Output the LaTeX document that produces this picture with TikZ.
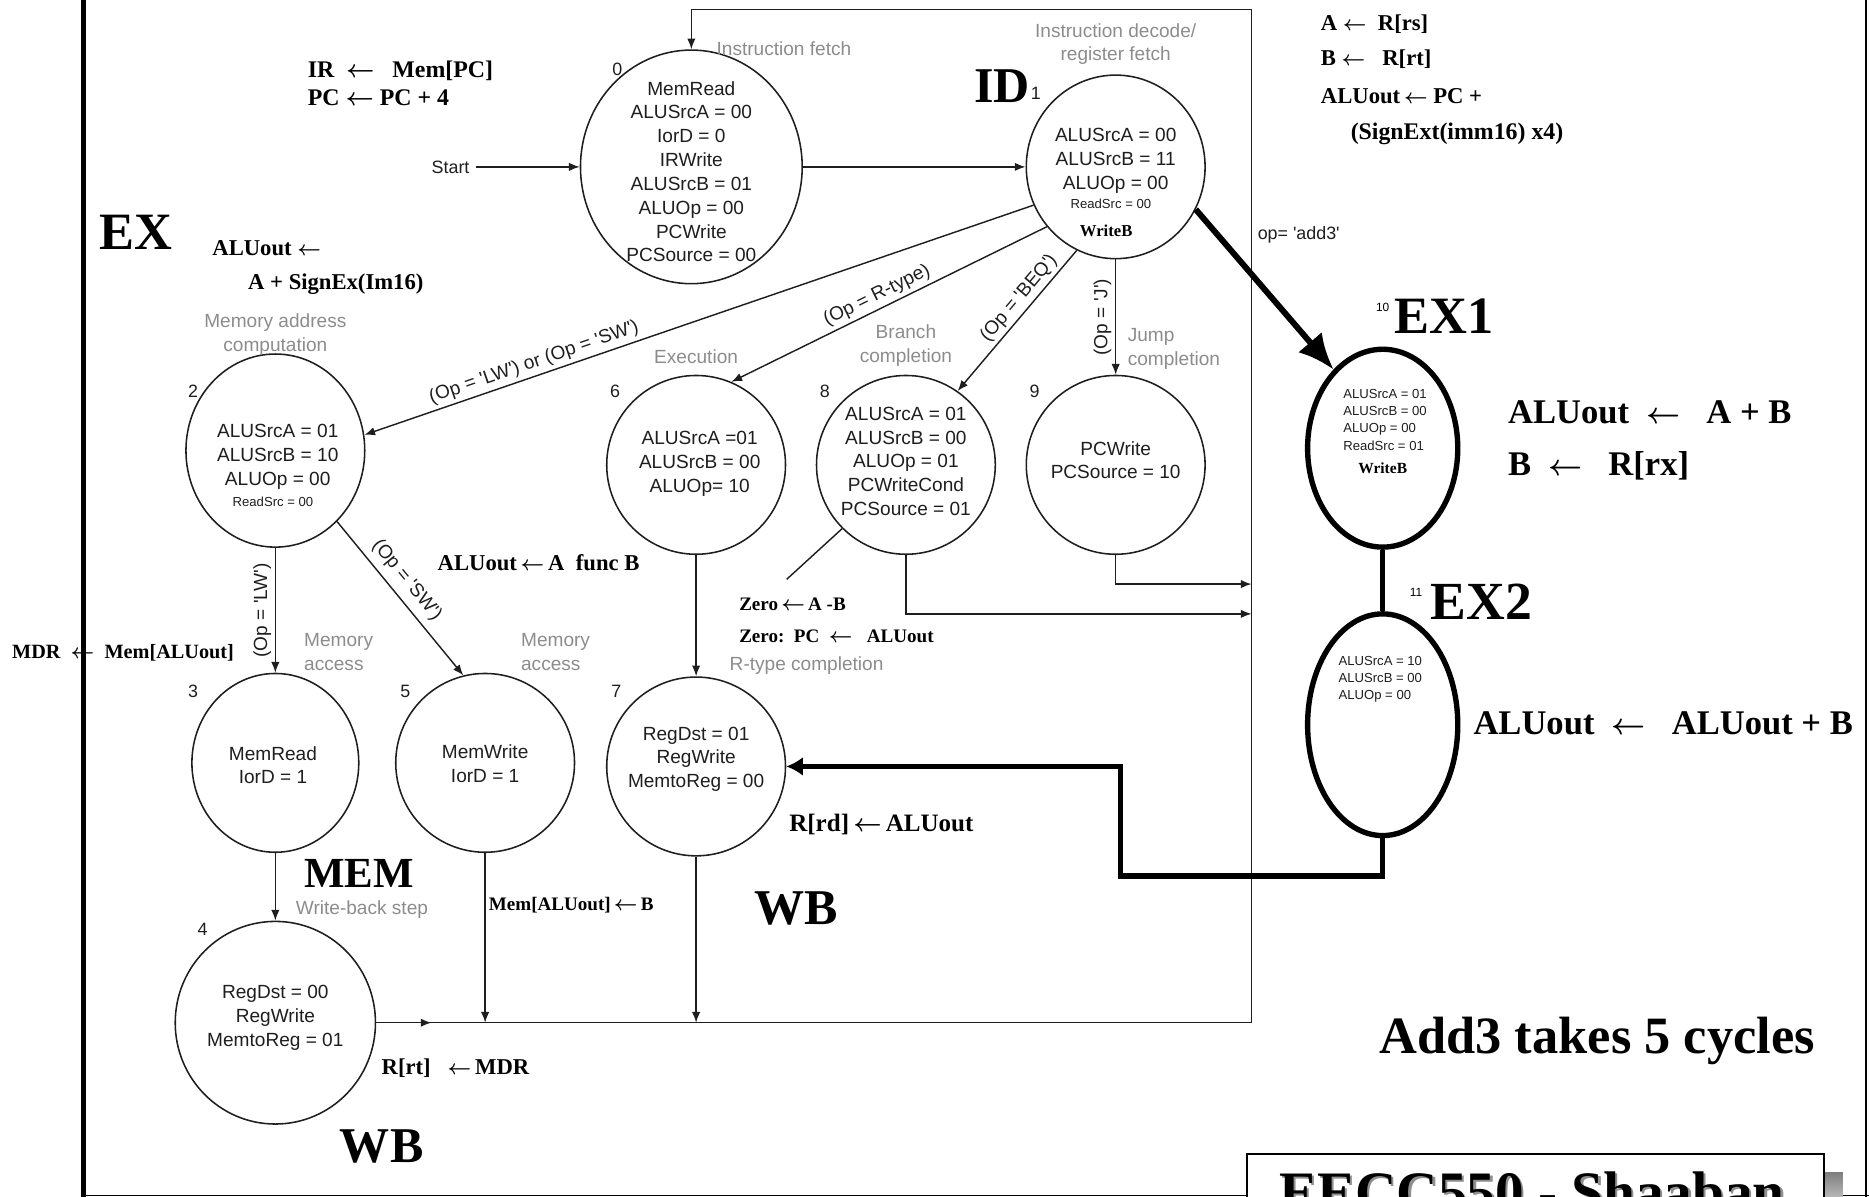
\documentclass[tikz,border=0pt]{standalone}
\usepackage{fontspec}
\setmainfont{Liberation Serif}
\setsansfont{Liberation Sans}
\usetikzlibrary{shapes.geometric,arrows.meta}
\definecolor{ink}{HTML}{1E1E1E}
\definecolor{fsmgray}{HTML}{8C8C8C}
\definecolor{shade}{HTML}{8F8F8F}
\newcommand{\getsarrow}{{\boldmath$\leftarrow$}}

\begin{document}
\begin{tikzpicture}[x=1pt,y=-1pt,
  >={Latex[length=9pt,width=7pt]},
  state/.style={draw=ink,ellipse,line width=1.3pt,inner sep=0pt},
  bigstate/.style={draw,ellipse,line width=4.5pt,inner sep=0pt},
  stxt/.style={font=\sffamily\fontsize{16}{20}\selectfont,text=ink,align=center,inner sep=0pt},
  smalltxt/.style={font=\sffamily\fontsize{11}{14.5}\selectfont,text=ink,align=left,inner sep=0pt},
  note/.style={font=\bfseries\fontsize{#1}{#1}\selectfont,anchor=west,inner sep=0pt},
  phase/.style={font=\bfseries\fontsize{44}{44}\selectfont,anchor=west,inner sep=0pt},
  stage/.style={font=\sffamily\fontsize{16}{20}\selectfont,text=fsmgray,align=center,inner sep=0pt},
  num/.style={font=\sffamily\fontsize{15}{15}\selectfont,text=ink,inner sep=0pt},
  cond/.style={font=\sffamily\fontsize{16}{16}\selectfont,text=ink,sloped,above,inner sep=3pt},
  condv/.style={font=\sffamily\fontsize{16}{16}\selectfont,text=ink,rotate=90,anchor=south,inner sep=3pt},
  wire/.style={draw=ink,line width=1.2pt}]
  \clip (0,0) rectangle (1568,1004);

  % slide frame
  \draw[line width=4pt] (70,0) -- (70,1004);
  \draw[line width=1pt] (1565.5,0) -- (1565.5,1004);
  \draw[shade,line width=1.5pt] (70,1003) -- (1568,1003);

  % states of the multicycle control
  \node[state,minimum width=186pt,minimum height=196pt] (s0) at (580,140) {};
  \node[stxt] (t0) at (580,144) {MemRead\\ALUSrcA = 00\\IorD = 0\\IRWrite\\ALUSrcB = 01\\ALUOp = 00\\PCWrite\\PCSource = 00};
  \node[num] (n0) at (518,58) {0};

  \node[state,minimum width=150pt,minimum height=154pt] (s1) at (936,140) {};
  \node[stxt] (t1) at (936,135) {ALUSrcA = 00\\ALUSrcB = 11\\ALUOp = 00};
  \node[smalltxt] (t1r) at (932,171) {ReadSrc = 00};
  \node[note=14,anchor=center] (t1w) at (928,194) {WriteB};

  \node[state,minimum width=150pt,minimum height=162pt] (s2) at (231,378) {};
  \node[stxt] (t2) at (233,383) {ALUSrcA = 01\\ALUSrcB = 10\\ALUOp = 00};
  \node[smalltxt] (t2r) at (229,421) {ReadSrc = 00};
  \node[num] (n2) at (162,328) {2};

  \node[state,minimum width=140pt,minimum height=150pt] (s3) at (231,640) {};
  \node[stxt] (t3) at (229,642) {MemRead\\IorD = 1};
  \node[num] (n3) at (162,580) {3};

  \node[state,minimum width=150pt,minimum height=150pt] (s5) at (407,640) {};
  \node[stxt] (t5) at (407,641) {MemWrite\\IorD = 1};
  \node[num] (n5) at (340,580) {5};

  \node[state,minimum width=150pt,minimum height=150pt] (s6) at (584,390) {};
  \node[stxt] (t6) at (587,389) {ALUSrcA =01\\ALUSrcB = 00\\ALUOp= 10};
  \node[num] (n6) at (516,328) {6};

  \node[state,minimum width=150pt,minimum height=150pt] (s8) at (760,390) {};
  \node[stxt] (t8) at (760,387) {ALUSrcA = 01\\ALUSrcB = 00\\ALUOp = 01\\PCWriteCond\\PCSource = 01};
  \node[num] (n8) at (692,328) {8};

  \node[state,minimum width=150pt,minimum height=150pt] (s9) at (936,390) {};
  \node[stxt] (t9) at (936,386) {PCWrite\\PCSource = 10};
  \node[num] (n9) at (868,328) {9};

  \node[state,minimum width=150pt,minimum height=150pt] (s7) at (584,643) {};
  \node[stxt] (t7) at (584,637) {RegDst = 01\\RegWrite\\MemtoReg = 00};
  \node[num] (n7) at (517,580) {7};

  \node[state,minimum width=168pt,minimum height=170pt] (s4) at (231,858) {};
  \node[stxt] (t4) at (231,854) {RegDst = 00\\RegWrite\\MemtoReg = 01};
  \node[num] (n4) at (170,780) {4};

  % add3 states
  \node[bigstate,minimum width=126pt,minimum height=166pt] (s10) at (1160,376) {};
  \node[smalltxt] (t10) at (1162,352) {ALUSrcA = 01\\ALUSrcB = 00\\ALUOp = 00\\ReadSrc = 01};
  \node[note=13,anchor=center] (t10w) at (1160,393) {WriteB};
  \node[bigstate,minimum width=126pt,minimum height=186pt] (s11) at (1160,608) {};
  \node[smalltxt] (t11) at (1158,570) {ALUSrcA = 10\\ALUSrcB = 00\\ALUOp = 00};
  \node[font=\sffamily\fontsize{10}{10}\selectfont,inner sep=0pt] (n10) at (1160,258) {10};
  \node[font=\sffamily\fontsize{10}{10}\selectfont,inner sep=0pt] (n11) at (1188,497) {11};

  % step names
  \node[stage,anchor=west] (g0) at (601,41) {Instruction fetch};
  \node[stage] (g1) at (936,37) {Instruction decode/\\register fetch};
  \node[stage] (g2) at (231,281) {Memory address\\computation};
  \node[stage] (g6) at (584,299) {Execution};
  \node[stage] (g8) at (760,290) {Branch\\completion};
  \node[stage,anchor=west,align=left] (g9) at (946,293) {Jump\\completion};
  \node[stage,anchor=west,align=left] (g3) at (255,547) {Memory\\access};
  \node[stage,anchor=west,align=left] (g5) at (437,547) {Memory\\access};
  \node[stage,anchor=west] (g7) at (612,558) {R-type completion};
  \node[stage,anchor=west] (g4) at (248,763) {Write-back step};

  % transitions
  \node[num,inner sep=5pt] (start) at (378,140) {Start};
  \draw[wire,->] (start.east) -- (s0.west);
  \draw[wire,->] (s0.east) -- (s1.west);
  \draw[wire,->] (s1.205) -- node[cond,pos=0.74] {(Op = \textquotesingle LW\textquotesingle) or (Op = \textquotesingle SW\textquotesingle)} (s2.10);
  \draw[wire,->] (s1.221) -- node[cond,pos=0.52] {(Op = R-type)} (s6.67);
  \draw[wire,->] (s1.245) -- node[cond,pos=0.4] {(Op = \textquotesingle BEQ\textquotesingle)} (s8.55);
  \draw[wire,->] (s1.south) -- node[condv,pos=0.5] {(Op = \textquotesingle J\textquotesingle)} (s9.north);
  \draw[wire,->] (s2.south) -- node[condv,pos=0.5] {(Op = \textquotesingle LW\textquotesingle)} (s3.north);
  \draw[wire,->] (s2.311) -- node[cond,pos=0.45,inner sep=6pt] {(Op = \textquotesingle SW\textquotesingle)} (s5.104);
  \draw[wire,->] (s6.south) -- (s7.north);
  \draw[wire,->] (s3.south) -- (s4.north);

  % return to fetch
  \coordinate (br) at (1050,858);
  \coordinate (tr) at (1050,8);
  \coordinate (bus) at (362,858);
  \coordinate (j9) at (1050,490);
  \coordinate (j8) at (1050,515);
  \draw[wire] (s4.east) -- (br) -- (tr);
  \draw[wire,->] (tr) -| (s0.north);
  \draw[wire,->] (s4.east) -- (bus);
  \draw[wire,->] (s5.south) -- (s5.south |- br);
  \draw[wire,->] (s7.south) -- (s7.south |- br);
  \draw[wire,->] (s9.south) |- (j9);
  \draw[wire,->] (s8.south) |- (j8);
  \coordinate (zp) at (660,486);
  \draw[wire] (s8.225) -- (zp);

  % add3 path
  \draw[line width=5pt,-{Latex[length=30pt,width=26pt]}] (s1.332) -- (s10.122);
  \node[num,anchor=west] (opadd) at (1055,197) {op= \textquotesingle add3\textquotesingle};
  \draw[line width=4.5pt] (s10.south) -- (s11.north);
  \coordinate (fb) at (940,735);
  \draw[line width=4.5pt,-{Latex[length=14pt,width=16pt]}] (s11.south) |- (fb) |- (s7.east);

  % register transfers
  \node[note=20] (rt0) at (258,59) {IR\enspace\getsarrow\enspace\ Mem[PC]};
  \node[note=20] (rt1) at (258,82) {PC\ \getsarrow\ PC + 4};
  \node[note=19] (rt2) at (1108,20) {A\ \getsarrow\ \ R[rs]};
  \node[note=19] (rt3) at (1108,50) {B\ \getsarrow\enspace\ R[rt]};
  \node[note=19] (rt4) at (1108,81) {ALUout\,\getsarrow\ PC +};
  \node[note=20] (rt5) at (1133,112) {(SignExt(imm16) x4)};
  \node[note=19] (rt6) at (178,208) {ALUout \getsarrow};
  \node[note=19] (rt7) at (208,238) {A + SignEx(Im16)};
  \node[note=19] (rt8) at (367,472) {ALUout\,\getsarrow\,A\enspace func B};
  \node[note=16] (rt9) at (620,507) {Zero\,\getsarrow\,A -B};
  \node[note=16] (rt10) at (620,534) {Zero:\enspace PC\enspace\getsarrow\enspace\ ALUout};
  \node[note=21] (rt11) at (662,692) {R[rd]\,\getsarrow\,ALUout};
  \node[note=17] (rt12) at (10,548) {MDR\enspace\getsarrow\enspace Mem[ALUout]};
  \node[note=16] (rt13) at (410,759) {Mem[ALUout]\,\getsarrow\,B};
  \node[note=19] (rt14) at (320,896) {R[rt]\enspace\ \getsarrow\,MDR};
  \node[note=29] (rt15) at (1265,346) {ALUout\enspace\getsarrow\enspace\ A + B};
  \node[note=29] (rt16) at (1265,391) {B\enspace\getsarrow\enspace\ R[rx]};
  \node[note=29] (rt17) at (1236,607) {ALUout\enspace\getsarrow\enspace\ ALUout + B};

  % pipeline-style phase names
  \node[phase] (ph0) at (83,195) {EX};
  \node[phase,font=\bfseries\fontsize{42}{42}\selectfont] (ph1) at (817,72) {ID};
  \node[num] (n1) at (869,78) {1};
  \node[phase] (ph2) at (1170,265) {EX1};
  \node[phase,font=\bfseries\fontsize{45}{45}\selectfont] (ph3) at (1200,505) {EX2};
  \node[phase,font=\bfseries\fontsize{36}{36}\selectfont] (ph4) at (255,733) {MEM};
  \node[phase,font=\bfseries\fontsize{42}{42}\selectfont] (ph5) at (633,762) {WB};
  \node[phase,font=\bfseries\fontsize{42}{42}\selectfont] (ph6) at (285,962) {WB};
  \node[phase] (ph7) at (1157,873) {Add3 takes 5 cycles};

  % footer
  \fill[shade] (1062,984) rectangle (1546,1030);
  \draw[fill=white,line width=1.5pt] (1046,968) rectangle (1530,1030);
  \node[note=48,anchor=base west,text=shade] (footsh) at (1075,1018) {EECC550 - Shaaban};
  \node[note=48,anchor=base west] (foot) at (1073,1016) {EECC550 - Shaaban};
\end{tikzpicture}
\end{document}
